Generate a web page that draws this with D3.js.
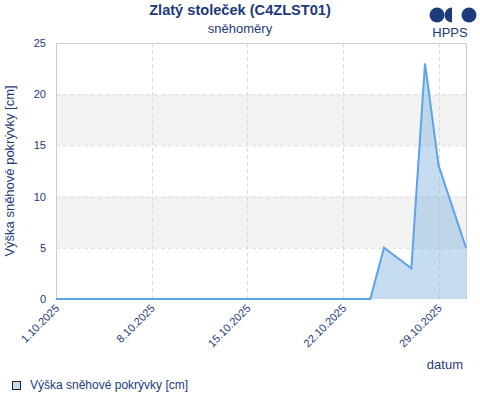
<!DOCTYPE html>
<html>
<head>
<meta charset="utf-8">
<script src="https://cdn.jsdelivr.net/npm/d3@7"></script>
<style>
  body { margin: 0; background: #fff; }
  svg { display: block; font-family: "Liberation Sans", Arial, sans-serif; }
</style>
</head>
<body>
<svg id="chart" width="480" height="400"></svg>
<script>
// snow depth per day, October 2025
const days = d3.range(1, 32)
const depth = [0, 0, 0, 0, 0, 0, 0, 0, 0, 0,
               0, 0, 0, 0, 0, 0, 0, 0, 0, 0,
               0, 0, 0, 0, 5, 4, 3, 23, 13, 9, 5]
const yTicks = [0, 5, 10, 15, 20, 25]
const xTickDays = [1, 8, 15, 22, 29]

const navy = '#1c3a7c'
const margin = {left: 56, right: 14, top: 43, bottom: 101}
const W = 480, H = 400

let svg = d3.select('#chart')
let data = days.map((d, i) => ({date: new Date(2025, 9, d), v: depth[i]}))

let x = d3.scaleTime()
    .domain([new Date(2025, 9, 1), new Date(2025, 9, 31)])
    .range([margin.left, W - margin.right])
let y = d3.scaleLinear().domain([0, 25]).range([H - margin.bottom, margin.top])

// alternating bands
let bands = [[5, 10], [15, 20]]
svg.append('g').selectAll('rect').data(bands).enter().append('rect')
    .attr('x', x.range()[0]).attr('width', x.range()[1] - x.range()[0])
    .attr('y', d => y(d[1])).attr('height', d => y(d[0]) - y(d[1]))
    .attr('fill', '#f2f2f2')

// grid
let grid = svg.append('g').attr('stroke', '#dadada').attr('stroke-dasharray', '4,3')
grid.selectAll('.hy').data(yTicks.filter(t => t > 0 && t < 25)).enter().append('line')
    .attr('x1', x.range()[0]).attr('x2', x.range()[1])
    .attr('y1', d => y(d) + 0.5).attr('y2', d => y(d) + 0.5)
grid.selectAll('.vx').data(xTickDays.slice(1)).enter().append('line')
    .attr('x1', d => Math.round(x(new Date(2025, 9, d))) + 0.5)
    .attr('x2', d => Math.round(x(new Date(2025, 9, d))) + 0.5)
    .attr('y1', y(25)).attr('y2', y(0))

// frame
svg.append('path')
    .attr('d', `M${x.range()[0] + 0.5},${y(0)}V${y(25) + 0.5}H${x.range()[1] + 0.5}V${y(0)}`)
    .attr('fill', 'none').attr('stroke', '#cccccc')

// area + line
let area = d3.area().x(d => x(d.date)).y0(y(0)).y1(d => y(d.v))
let line = d3.line().x(d => x(d.date)).y(d => y(d.v))
svg.append('path').datum(data).attr('d', area)
    .attr('fill', 'rgba(131,181,225,0.46)')
svg.append('path').datum(data).attr('d', line)
    .attr('fill', 'none').attr('stroke', '#5ba3ea').attr('stroke-width', 2)
    .attr('stroke-linejoin', 'miter')

// y axis labels
svg.append('g').selectAll('text').data(yTicks).enter().append('text')
    .attr('x', margin.left - 10).attr('y', d => y(d) + 4)
    .attr('text-anchor', 'end').attr('font-size', 11).attr('fill', navy)
    .text(d => d)

svg.append('text')
    .attr('transform', `translate(14,${(y(0) + y(25)) / 2}) rotate(-90)`)
    .attr('text-anchor', 'middle').attr('font-size', 13).attr('fill', navy)
    .text('Výška sněhové pokrývky [cm]')

// x axis labels
let fmt = d => `${d}.10.2025`
svg.append('g').selectAll('text').data(xTickDays).enter().append('text')
    .attr('transform', d => `translate(${x(new Date(2025, 9, d)) + 4},${y(0) + 10}) rotate(-45)`)
    .attr('text-anchor', 'end').attr('font-size', 11).attr('fill', navy)
    .text(fmt)

svg.append('text').attr('x', 463).attr('y', 369)
    .attr('text-anchor', 'end').attr('font-size', 13).attr('fill', navy)
    .text('datum')

// titles
svg.append('text').attr('x', 240).attr('y', 15)
    .attr('text-anchor', 'middle').attr('font-size', 14.6).attr('font-weight', 'bold')
    .attr('fill', navy).text('Zlatý stoleček (C4ZLST01)')
svg.append('text').attr('x', 240).attr('y', 33)
    .attr('text-anchor', 'middle').attr('font-size', 13)
    .attr('fill', navy).text('sněhoměry')

// logo
let logo = svg.append('g').attr('fill', navy)
logo.append('circle').attr('cx', 437).attr('cy', 15).attr('r', 7.5)
logo.append('path').attr('d', 'M452,7.5 A7.5,7.5 0 0 0 452,22.5 Z')
logo.append('circle').attr('cx', 469).attr('cy', 15).attr('r', 7.5)
svg.append('text').attr('x', 450).attr('y', 37)
    .attr('text-anchor', 'middle').attr('font-size', 13).attr('fill', navy)
    .text('HPPS')

// legend
svg.append('rect').attr('x', 12.5).attr('y', 381.5).attr('width', 8).attr('height', 8)
    .attr('fill', '#c6ddf1').attr('stroke', '#222').attr('stroke-width', 1)
svg.append('text').attr('x', 30).attr('y', 389)
    .attr('font-size', 12).attr('fill', navy)
    .text('Výška sněhové pokrývky [cm]')
</script>
</body>
</html>
